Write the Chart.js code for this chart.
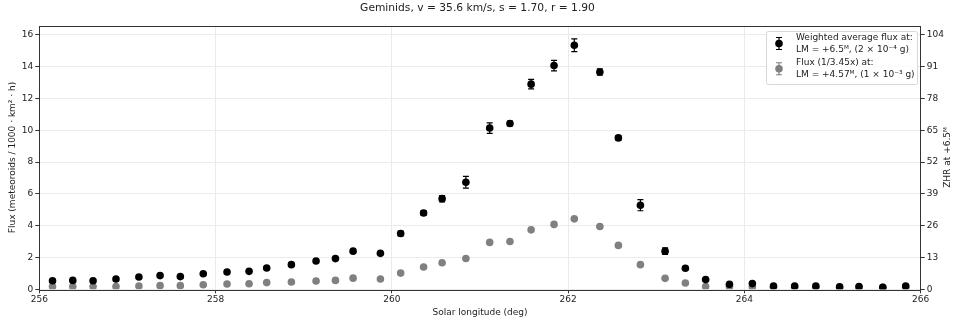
<!DOCTYPE html>
<html>
<head>
<meta charset="utf-8">
<script src="https://cdn.jsdelivr.net/npm/chart.js@4.4.1/dist/chart.umd.min.js"></script>
<style>
  html, body { margin: 0; padding: 0; background: #fff; }
  canvas { display: block; }
</style>
</head>
<body>
<canvas id="chart" width="955" height="320"></canvas>
<script>
// solar longitude of each bin (deg)
const solarLon = [256.15, 256.38, 256.61, 256.87, 257.13, 257.37, 257.60, 257.86, 258.13, 258.38,
  258.58, 258.86, 259.14, 259.36, 259.56, 259.87, 260.10, 260.36, 260.57, 260.84,
  261.11, 261.34, 261.58, 261.84, 262.07, 262.36, 262.57, 262.82, 263.10, 263.33,
  263.56, 263.83, 264.09, 264.33, 264.57, 264.81, 265.08, 265.30, 265.57, 265.83];
// weighted average flux, LM +6.5
const fluxAvg = [0.54, 0.56, 0.54, 0.65, 0.77, 0.86, 0.80, 0.98, 1.09, 1.13,
  1.34, 1.55, 1.78, 1.93, 2.40, 2.26, 3.51, 4.80, 5.70, 6.73,
  10.14, 10.43, 12.90, 14.07, 15.35, 13.66, 9.52, 5.29, 2.40, 1.32,
  0.61, 0.31, 0.36, 0.21, 0.21, 0.21, 0.15, 0.17, 0.12, 0.21];
const fluxErr = [0.08, 0.08, 0.08, 0.08, 0.08, 0.08, 0.08, 0.08, 0.08, 0.08,
  0.08, 0.08, 0.08, 0.08, 0.08, 0.08, 0.15, 0.15, 0.2, 0.37,
  0.33, 0.15, 0.3, 0.33, 0.4, 0.2, 0.15, 0.35, 0.2, 0.1,
  0.08, 0.08, 0.08, 0.08, 0.08, 0.08, 0.08, 0.08, 0.08, 0.08];
// flux (1/3.45x), LM +4.57
const fluxLow = [0.17, 0.17, 0.17, 0.17, 0.21, 0.23, 0.23, 0.29, 0.33, 0.35,
  0.42, 0.46, 0.52, 0.56, 0.70, 0.65, 1.02, 1.40, 1.67, 1.94,
  2.95, 3.01, 3.74, 4.08, 4.43, 3.95, 2.76, 1.55, 0.69, 0.40,
  0.17, 0.15, 0.14, 0.13, 0.13, 0.13, 0.12, 0.12, 0.12, 0.13];

const legendLines = [
  ['Weighted average flux at:', 'LM = +6.5ᴹ, (2 × 10⁻⁴ g)'],
  ['Flux (1/3.45x) at:', 'LM = +4.57ᴹ, (1 × 10⁻³ g)']
];
const fluxMax = 16.58, zhrPerFlux = 6.5;

const FONT = '"DejaVu Sans", sans-serif';
const toPts = (ys) => ys.map((y, i) => ({x: solarLon[i], y}));

const extras = {
  id: 'extras',
  beforeDatasetsDraw(chart) {
    const {ctx, scales: {x, y}} = chart;
    ctx.save();
    ctx.strokeStyle = '#000';
    ctx.lineWidth = 1.2;
    fluxAvg.forEach((v, i) => {
      const px = x.getPixelForValue(solarLon[i]);
      const y1 = y.getPixelForValue(v - fluxErr[i]), y2 = y.getPixelForValue(v + fluxErr[i]);
      ctx.beginPath();
      ctx.moveTo(px, y1); ctx.lineTo(px, y2);
      ctx.moveTo(px - 3, y1); ctx.lineTo(px + 3, y1);
      ctx.moveTo(px - 3, y2); ctx.lineTo(px + 3, y2);
      ctx.stroke();
    });
    ctx.restore();
  },
  afterDraw(chart) {
    const {ctx, chartArea: a} = chart;
    ctx.save();
    // frame
    ctx.strokeStyle = '#333';
    ctx.lineWidth = 1;
    ctx.strokeRect(Math.round(a.left) + 0.5, Math.round(a.top) + 0.5, Math.round(a.right - a.left), Math.round(a.bottom - a.top));
    // right axis label
    ctx.fillStyle = '#222';
    ctx.font = '9px ' + FONT;
    ctx.textAlign = 'center';
    ctx.textBaseline = 'middle';
    ctx.translate(948, (a.top + a.bottom) / 2);
    ctx.rotate(-Math.PI / 2);
    ctx.fillText('ZHR at +6.5ᴹ', 0, 0);
    ctx.restore();

    // legend box
    ctx.save();
    const bx = 766, by = 31, bw = 151, bh = 53;
    ctx.beginPath();
    ctx.roundRect(bx + 0.5, by + 0.5, bw, bh, 2);
    ctx.fillStyle = 'rgba(255,255,255,0.85)';
    ctx.fill();
    ctx.strokeStyle = '#d8d8d8';
    ctx.stroke();
    const colors = ['#000', '#808080'];
    const rows = [[37.5, 49.5], [63, 74.5]];
    ctx.font = '9px ' + FONT;
    ctx.textAlign = 'left';
    ctx.textBaseline = 'middle';
    legendLines.forEach((lines, k) => {
      const my = (rows[k][0] + rows[k][1]) / 2;
      ctx.strokeStyle = colors[k];
      ctx.fillStyle = colors[k];
      ctx.lineWidth = 1.2;
      ctx.beginPath();
      ctx.moveTo(779, my - 6); ctx.lineTo(779, my + 6);
      ctx.moveTo(776, my - 6); ctx.lineTo(782, my - 6);
      ctx.moveTo(776, my + 6); ctx.lineTo(782, my + 6);
      ctx.stroke();
      ctx.beginPath();
      ctx.arc(779, my, 3.8, 0, Math.PI * 2);
      ctx.fill();
      ctx.fillStyle = '#222';
      lines.forEach((t, j) => ctx.fillText(t, 796, rows[k][j]));
    });
    ctx.restore();
  }
};

const tickFont = {family: FONT, size: 9};

new Chart(document.getElementById('chart'), {
  type: 'scatter',
  data: {
    datasets: [
      {label: 'Weighted average flux', data: toPts(fluxAvg), backgroundColor: '#000', borderColor: '#000',
        pointRadius: 3.8, pointHoverRadius: 3.8, borderWidth: 0, yAxisID: 'y'},
      {label: 'Flux (1/3.45x)', data: toPts(fluxLow), backgroundColor: '#808080', borderColor: '#808080',
        pointRadius: 3.8, pointHoverRadius: 3.8, borderWidth: 0, yAxisID: 'y'}
    ]
  },
  options: {
    responsive: false,
    animation: false,
    devicePixelRatio: 1,
    layout: {padding: 0},
    plugins: {
      legend: {display: false},
      tooltip: {enabled: false},
      title: {display: true, text: 'Geminids, v = 35.6 km/s, s = 1.70, r = 1.90',
        color: '#222', font: {family: FONT, size: 10.7, weight: 'normal'}, padding: {top: 2, bottom: 10.8}}
    },
    scales: {
      x: {
        type: 'linear', min: 256, max: 266,
        afterFit: (s) => { s.height = 30.7; },
        ticks: {stepSize: 2, color: '#222', font: tickFont, padding: 1, maxRotation: 0},
        grid: {color: '#ebebeb', tickColor: '#333', tickLength: 4},
        border: {display: false},
        title: {display: true, text: 'Solar longitude (deg)', color: '#222', font: tickFont, padding: {top: 0, bottom: 2}}
      },
      y: {
        position: 'left', min: 0, max: fluxMax,
        afterFit: (s) => { s.width = 39.3; },
        ticks: {stepSize: 2, includeBounds: false, color: '#222', font: tickFont, padding: 2},
        grid: {color: '#ebebeb', tickColor: '#333', tickLength: 4},
        border: {display: false},
        title: {display: true, text: 'Flux (meteoroids / 1000 · km² · h)', color: '#222', font: tickFont, padding: {top: 7, bottom: 0}}
      },
      y2: {
        position: 'right', min: 0, max: fluxMax * zhrPerFlux,
        afterFit: (s) => { s.width = 34.3; },
        ticks: {stepSize: 13, includeBounds: false, color: '#222', font: tickFont, padding: 2},
        grid: {drawOnChartArea: false, tickColor: '#333', tickLength: 4},
        border: {display: false}
      }
    }
  },
  plugins: [extras]
});
</script>
</body>
</html>
